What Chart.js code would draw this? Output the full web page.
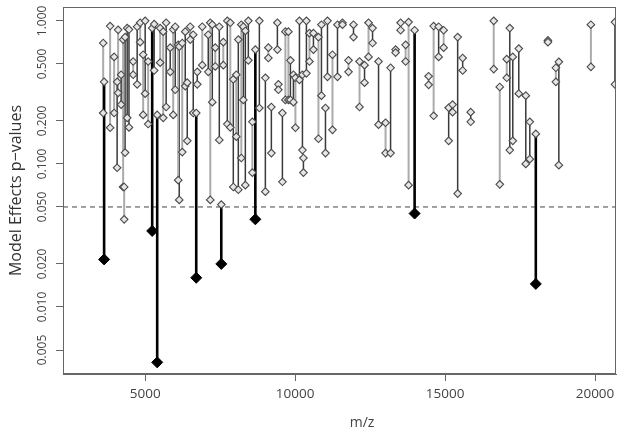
<!DOCTYPE html>
<html>
<head>
<meta charset="utf-8">
<script src="https://cdn.jsdelivr.net/npm/chart.js@4.4.1/dist/chart.umd.min.js"></script>
<style>
  html, body { margin: 0; padding: 0; background: #fff; }
  #wrap { width: 624px; height: 437px; }
</style>
</head>
<body>
<div id="wrap"><canvas id="chart"></canvas></div>
<script>
// ===== DATA =====
// one vertical segment per m/z peak, joining the two effect p-values
const mz = [
    3600, 3631, 3831, 3965, 4065, 4098, 4198, 4265, 4300, 4330, 4400, 4460,
    4600, 4733, 4833, 4933, 5000, 5100, 5234, 5300, 5401, 5500, 5601, 5700,
    5835, 5935, 6002, 6102, 6136, 6236, 6336, 6403, 6503, 6603, 6703, 6737,
    6904, 7104, 7171, 7238, 7338, 7472, 7538, 7605, 7739, 7839, 7939, 8039,
    8106, 8206, 8273, 8340, 8440, 8574, 8674, 8808, 9008, 9108, 9208, 9409,
    9442, 9576, 9676, 9776, 9843, 9943, 10010, 10144, 10244, 10277, 10377, 10478,
    10611, 10778, 10878, 11012, 11079, 11246, 11413, 11580, 11780, 11947, 12148, 12315,
    12448, 12582, 12782, 13016, 13183, 13350, 13517, 13684, 13784, 13985, 14452, 14619,
    14786, 14953, 15120, 15250, 15420, 15587, 15855, 16623, 16824, 17057, 17158, 17258,
    17458, 17692, 17826, 18026, 18430, 18694, 18794, 19863, 20665
];
const pFirst = [
    0.70, 0.375, 0.92, 0.56, 0.375, 0.865, 0.42, 0.74, 0.069, 0.77, 0.89, 0.87,
    0.52, 0.91, 0.97, 0.58, 1.00, 0.52, 0.89, 0.95, 0.22, 0.89, 0.84, 0.97,
    0.65, 0.87, 0.91, 0.68, 0.66, 0.70, 0.84, 0.37, 0.91, 0.80, 0.227, 0.44,
    0.91, 0.80, 0.97, 0.94, 0.65, 0.91, 0.052, 0.71, 1.00, 0.97, 0.39, 0.42,
    0.74, 0.94, 0.91, 0.85, 1.00, 0.197, 0.63, 1.00, 0.40, 0.65, 0.25, 0.97,
    0.36, 0.227, 0.84, 0.84, 0.53, 0.42, 0.40, 1.00, 0.42, 0.11, 1.00, 0.82,
    0.82, 0.77, 0.94, 0.246, 1.00, 0.58, 0.94, 0.97, 0.53, 0.94, 0.52, 0.49,
    0.97, 0.89, 0.52, 0.194, 0.47, 0.63, 0.97, 0.68, 0.98, 0.86, 0.41, 0.92,
    0.91, 0.86, 0.247, 0.26, 0.77, 0.55, 0.23, 1.00, 0.345, 0.54, 0.89, 0.56,
    0.64, 0.30, 0.197, 0.162, 0.73, 0.47, 0.517, 0.94, 0.98
];
const pSecond = [
    0.227, 0.0215, 0.179, 0.227, 0.094, 0.314, 0.26, 0.069, 0.041, 0.12, 0.21, 0.18,
    0.42, 0.36, 0.71, 0.22, 0.31, 0.19, 0.034, 0.45, 0.0041, 0.51, 0.21, 0.25,
    0.44, 0.22, 0.33, 0.077, 0.056, 0.121, 0.35, 0.145, 0.74, 0.227, 0.016, 0.36,
    0.49, 0.44, 0.056, 0.27, 0.48, 0.147, 0.020, 0.49, 0.19, 0.18, 0.069, 0.155,
    0.066, 0.11, 0.28, 0.071, 0.53, 0.087, 0.041, 0.246, 0.064, 0.55, 0.119, 0.63,
    0.33, 0.075, 0.28, 0.28, 0.28, 0.27, 0.179, 0.387, 0.125, 0.087, 0.43, 0.52,
    0.63, 0.15, 0.30, 0.119, 0.406, 0.173, 0.406, 0.94, 0.44, 0.77, 0.25, 0.37,
    0.56, 0.70, 0.188, 0.119, 0.119, 0.60, 0.86, 0.52, 0.071, 0.045, 0.357, 0.217,
    0.56, 0.65, 0.145, 0.23, 0.062, 0.45, 0.197, 0.46, 0.072, 0.40, 0.125, 0.145,
    0.31, 0.10, 0.108, 0.0145, 0.71, 0.375, 0.098, 0.477, 0.36
];
// g = light grey segment, d = dark segment, s = significant (black, filled end)
const shade = [
    'g','s','g','g','d','g','d','g','g','d','d','d',
    'g','d','g','g','d','g','s','d','s','g','g','d',
    'd','g','d','g','d','g','d','d','g','d','s','d',
    'g','d','g','d','g','d','s','g','d','g','d','g',
    'd','g','d','d','d','g','s','d','d','g','d','d',
    'd','d','g','g','d','d','g','d','d','d','d','g',
    'd','g','d','d','d','g','d','d','g','d','g','d',
    'g','d','d','g','d','d','g','g','g','s','g','g',
    'd','g','d','d','d','d','d','g','g','g','d','d',
    'd','d','d','s','d','g','d','g','d'
];
const xTicks = [5000, 10000, 15000, 20000];
const yTicks = [0.005, 0.010, 0.020, 0.050, 0.100, 0.200, 0.500, 1.000];
const cutoff = 0.05;

// ===== STYLES =====
const SEG_STYLE = {
    g: { color: '#ababab', width: 2 },
    d: { color: '#3a3a3a', width: 1.5 },
    s: { color: '#000000', width: 2.6 }
};
const FONT = '"Open Sans", "DejaVu Sans", sans-serif';

// ===== DATASETS =====
const datasets = [];

// open markers at every end except the filled significant ones
const openPoints = [];
const filledPoints = [];
mz.forEach((x, i) => {
    openPoints.push({ x, y: pFirst[i] });
    if (shade[i] === 's') filledPoints.push({ x, y: pSecond[i] });
    else openPoints.push({ x, y: pSecond[i] });
});

datasets.push({
    data: filledPoints,
    pointStyle: 'rectRot',
    pointRadius: 5.5,
    backgroundColor: '#000',
    borderColor: '#000',
    borderWidth: 1,
    order: 0
});
datasets.push({
    data: openPoints,
    pointStyle: 'rectRot',
    pointRadius: 3.8,
    backgroundColor: '#e6e6e6',
    borderColor: '#4a4a4a',
    borderWidth: 1.1,
    order: 1
});

mz.forEach((x, i) => {
    const st = SEG_STYLE[shade[i]];
    datasets.push({
        data: [{ x, y: pFirst[i] }, { x, y: pSecond[i] }],
        showLine: true,
        borderColor: st.color,
        borderWidth: st.width,
        pointRadius: 0,
        order: shade[i] === 's' ? 2 : 3
    });
});

// significance cut-off
datasets.push({
    data: [{ x: 2260, y: cutoff }, { x: 20700, y: cutoff }],
    showLine: true,
    borderColor: '#444',
    borderWidth: 1,
    borderDash: [5, 4],
    pointRadius: 0,
    order: 4
});

// ===== FRAME + ROTATED Y LABELS =====
const framePlugin = {
    id: 'frame',
    afterDraw(chart) {
        const { ctx, chartArea: a, scales } = chart;
        ctx.save();
        ctx.strokeStyle = '#666';
        ctx.lineWidth = 1;
        ctx.strokeRect(a.left + 0.5, a.top + 0.5, a.right - a.left - 1, a.bottom - a.top - 1);

        ctx.fillStyle = '#444';
        ctx.textAlign = 'center';
        ctx.textBaseline = 'middle';
        ctx.font = '12px ' + FONT;
        yTicks.forEach(v => {
            const py = scales.y.getPixelForValue(v);
            ctx.save();
            ctx.translate(43, py);
            ctx.rotate(-Math.PI / 2);
            ctx.fillText(v.toFixed(3), 0, 0);
            ctx.restore();
        });

        ctx.font = '14px ' + FONT;
        ctx.fillText('m/z', 362, 423);
        ctx.restore();
    }
};

// ===== CHART =====
new Chart(document.getElementById('chart'), {
    type: 'scatter',
    data: { datasets },
    options: {
        responsive: true,
        maintainAspectRatio: false,
        animation: false,
        layout: { padding: { left: 0, right: 8, top: 7, bottom: 0 } },
        plugins: {
            legend: { display: false },
            tooltip: { enabled: false }
        },
        scales: {
            x: {
                type: 'linear',
                min: 2260,
                max: 20700,
                afterBuildTicks: s => { s.ticks = xTicks.map(v => ({ value: v })); },
                afterFit: s => { s.height = 63; },
                ticks: {
                    callback: v => String(v),
                    color: '#444',
                    font: { family: FONT, size: 13.5 },
                    padding: 5,
                    maxRotation: 0
                },
                grid: { drawOnChartArea: false, drawTicks: true, tickLength: 7, color: '#666' },
                border: { display: true, color: '#666' }
            },
            y: {
                type: 'logarithmic',
                min: 0.0034,
                max: 1.25,
                afterBuildTicks: s => { s.ticks = yTicks.map(v => ({ value: v })); },
                afterFit: s => { s.width = 63; },
                ticks: { display: false },
                grid: { drawOnChartArea: false, drawTicks: true, tickLength: 7, color: '#666' },
                border: { display: true, color: '#666' },
                title: {
                    display: true,
                    text: 'Model Effects p\u2212values',
                    color: '#333',
                    font: { family: FONT, size: 16 },
                    padding: { top: 7, bottom: 0 }
                }
            }
        }
    },
    plugins: [framePlugin]
});
</script>
</body>
</html>
